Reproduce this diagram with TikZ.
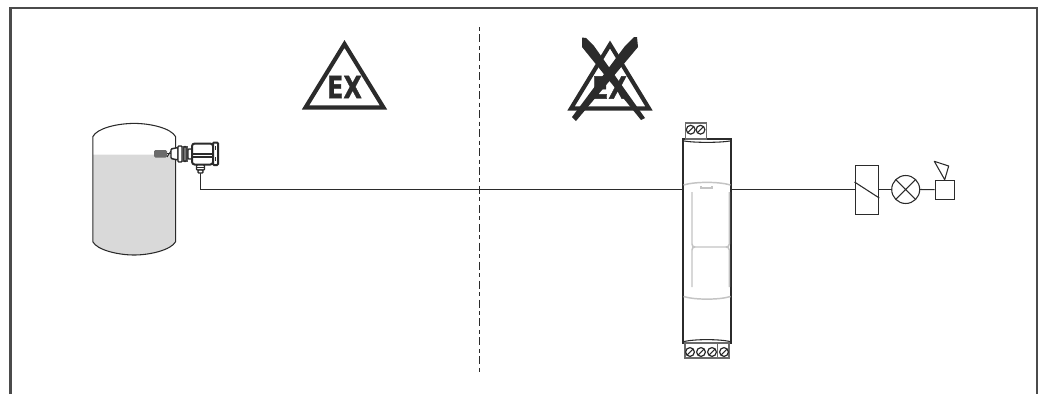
\documentclass[tikz,border=0pt]{standalone}
\usepackage{fontspec}
\setmainfont{Liberation Sans}
\newfontfamily\exfont{DejaVu Sans}[BoldFont={DejaVu Sans Bold},FakeBold=1.2]
\definecolor{ink}{HTML}{2B2B2B}
\definecolor{liquid}{HTML}{D9D9D9}
\definecolor{panel}{HTML}{C4C4C4}
\tikzset{
  thinline/.style={draw=ink,line width=0.8pt},
  frameline/.style={draw=ink!85,line width=1.8pt},
  warn/.style={draw=ink,line width=3.1pt,miter limit=10},
  extext/.style={font=\exfont\bfseries\fontsize{23pt}{23pt}\selectfont,text=ink,inner sep=0pt,xscale=0.78},
  crossbar/.style={fill=ink,draw=none},
  grayline/.style={draw=panel,line width=1.1pt},
  screw/.style={circle,draw=ink,line width=0.9pt,minimum size=6.6pt,inner sep=0pt,path picture={\draw[ink,line width=0.8pt] (path picture bounding box.south west) -- (path picture bounding box.north east);}},
  sensorpart/.style={draw=ink,line width=1.1pt,fill=white,rounded corners=0.7pt},
}
\begin{document}
\begin{tikzpicture}[x=0.75pt,y=-0.75pt]
\useasboundingbox (0,0) rectangle (1039,394);
% frame
\draw[frameline] (10.5,394) -- (10.5,8) -- (1037,8) -- (1037,394);
% zone divider
\coordinate (divtop) at (479.7,27);
\coordinate (divbot) at (479.7,372);
\draw[draw=ink,line width=0.9pt,dash pattern=on 3pt off 2.6pt on 6pt off 2.6pt] (divtop) -- (divbot);
% tank
\fill[liquid] (93,154.5) -- (175.5,154.5) -- (175.5,241.7) .. controls (170,250) and (150,255) .. (134.2,255) .. controls (118,255) and (98,250) .. (93,241.7) -- cycle;
\draw[thinline] (92.8,136.7) .. controls (97,128) and (118,123.4) .. (134.2,123.4) .. controls (150,123.4) and (171,128) .. (175.6,136.7) -- (175.6,241.7) .. controls (171,250) and (150,255) .. (134.2,255) .. controls (118,255) and (97,250) .. (92.8,241.7) -- cycle;
% wiring
\node[inner sep=0pt,minimum size=0pt] (gland) at (200.5,173) {};
\node[inner sep=0pt,minimum width=48.3*0.75pt,minimum height=204*0.75pt,draw=ink,line width=1.5pt,fill=white] (module) at (706.85,241) {};
\coordinate (bend) at (200.5,189.5);
\draw[thinline] (gland.center) -- (bend) -- (bend -| module.west);
% sensor
\fill[ink!70,rounded corners=1pt] (154,150) rectangle (167,157.5);
\draw[thinline] (167,153.5) -- (171,153.5);
\draw[thinline] (167,157) -- (171,151);
\draw[sensorpart] (171,149) -- (178,147.5) -- (178,160) -- (171,158.5) -- cycle;
\draw[sensorpart] (178,146) rectangle (182,162);
\fill[ink!80] (182,146) rectangle (188,162);
\draw[sensorpart] (184,146.5) rectangle (186,161.5);
\draw[sensorpart] (188,149) rectangle (192,159);
\draw[sensorpart,line width=1.5pt,rounded corners=2pt] (192,143.5) rectangle (213,164.5);
\draw[draw=ink,line width=1.1pt] (192.5,154) -- (213,154);
\draw[draw=ink,line width=1.1pt] (192.5,157) -- (213,157);
\draw[sensorpart,line width=1.5pt] (213,142.5) rectangle (218,165);
\draw[ink,line width=0.8pt] (215.5,146) -- (215.5,150) (215.5,157) -- (215.5,161);
\draw[sensorpart] (196.5,165) rectangle (204.5,170);
\draw[ink,line width=0.8pt] (196.5,167.5) -- (204.5,167.5);
\draw[sensorpart] (198,170) rectangle (203,173);
% warning triangles
\node[extext] (exa) at (344.5,87) {EX};
\draw[warn] (344.5,44) -- (383.5,107.5) -- (305.5,107.5) -- cycle;
\node[extext] (exb) at (609.5,87.5) {EX};
\draw[warn] (610,44.5) -- (649,108.5) -- (571,108.5) -- cycle;
\fill[crossbar] (582,37.5) -- (586,38) -- (594,46) -- (645,118) -- (641,120) -- (582,47) -- cycle;
\fill[crossbar] (637,37) -- (634,37) -- (625,46) -- (572,117) -- (576,121) -- (638,47) -- cycle;
% module details
\draw[grayline] (683.5,185) .. controls (695,181.5) and (719,181.5) .. (730.5,185);
\draw[draw=panel,line width=0.8pt] (701,186) -- (701,188) -- (712,188) -- (712,186);
\draw[grayline] (692,192) -- (692,244) .. controls (692,246) and (693,247) .. (695,247) -- (726,247) .. controls (728,247) and (729.3,246) .. (729.3,244) -- (729.3,192);
\draw[grayline] (692,287) -- (692,250) .. controls (692,248) and (693,247) .. (695,247) (726,247) .. controls (728,247) and (729.3,248) .. (729.3,250) -- (729.3,287);
\draw[grayline] (683.5,296.5) .. controls (695,300) and (719,300) .. (730.5,296.5);
\draw[draw=ink,line width=0.8pt] (684,141) .. controls (695,142.8) and (719,142.8) .. (730,141);
\draw[draw=ink,line width=0.8pt] (684,341.5) .. controls (695,339) and (719,339) .. (730,341.5);
% terminals
\node[inner sep=0pt,minimum width=21.7*0.75pt,minimum height=16*0.75pt,draw=ink!70,line width=0.8pt,fill=white] (termtop) at (695.9,131) {};
\node[screw] (sa) at (690.7,129.7) {};
\node[screw] (sb) at (700.5,129.7) {};
\node[inner sep=0pt,minimum width=44*0.75pt,minimum height=15*0.75pt,draw=ink!70,line width=0.8pt,fill=white] (termbot) at (707,350.5) {};
\draw[draw=ink!70,line width=0.8pt] (717.3,343) -- (717.3,358);
\node[screw] (sc) at (690,352) {};
\node[screw] (sd) at (701,352) {};
\node[screw] (se) at (712,352) {};
\node[screw] (sf) at (724,352) {};
% output devices
\node[inner sep=0pt,minimum width=23.7*0.75pt,minimum height=48.7*0.75pt,draw=ink,line width=0.8pt] (relay) at (866.9,189.7) {};
\draw[thinline] (relay.west |- 0,182) -- (relay.east |- 0,198);
\node[circle,inner sep=0pt,minimum size=28*0.75pt,draw=ink,line width=0.8pt,path picture={\draw[ink,line width=0.8pt] (path picture bounding box.south west) -- (path picture bounding box.north east) (path picture bounding box.north west) -- (path picture bounding box.south east);}] (lamp) at (905.7,189.5) {};
\node[inner sep=0pt,minimum width=19*0.75pt,minimum height=19*0.75pt,draw=ink,line width=0.8pt] (horn) at (944.7,189.7) {};
\draw[thinline,line join=round] (horn.north) -- (934.3,161.3) -- (948.7,166) -- cycle;
\draw[thinline] (module.east |- 0,189.5) -- (relay.west |- 0,189.5);
\draw[thinline] (relay.east |- 0,189.5) -- (lamp.west);
\draw[thinline] (lamp.east) -- (horn.west);
\end{tikzpicture}
\end{document}
